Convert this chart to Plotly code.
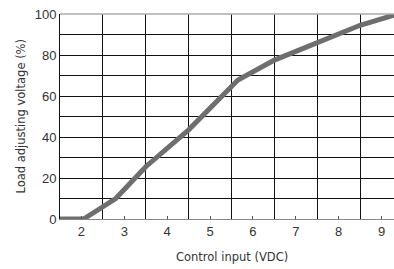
import plotly.graph_objects as go

control_input = [1.5, 2.05, 2.8, 3.5, 4.5, 5.0, 5.65, 6.5, 7.5, 8.5, 9.3]
load_voltage = [0, 0, 10, 25.5, 43.5, 54, 67.8, 77.5, 86, 94.5, 99.5]
x_ticks = [2, 3, 4, 5, 6, 7, 8, 9]
y_ticks = [0, 20, 40, 60, 80, 100]

tick_font = "Liberation Sans, Arial, sans-serif"
title_font = "DejaVu Sans, sans-serif"

fig = go.Figure()
fig.add_trace(go.Scatter(
    x=control_input, y=load_voltage, mode="lines",
    line=dict(color="#6e6e6e", width=5), hoverinfo="skip", showlegend=False,
))

fig.update_layout(
    width=394, height=269, autosize=False,
    margin=dict(l=60, r=0, t=14, b=50, autoexpand=False),
    paper_bgcolor="white", plot_bgcolor="white",
    font=dict(family=tick_font, color="#333333", size=13),
    showlegend=False,
)

fig.update_xaxes(
    range=[1.5, 9.29], automargin=False,
    tickvals=x_ticks, ticktext=[str(v) for v in x_ticks],
    ticks="inside", ticklen=3, tickcolor="#555555",
    showgrid=False, zeroline=False,
    showline=True, linecolor="#888888", linewidth=1, mirror=False,
    minor=dict(tick0=1.5, dtick=1, showgrid=True, gridcolor="#111111", gridwidth=1, ticks=""),
    tickfont=dict(size=13, color="#333333"),
)

fig.update_yaxes(
    range=[0, 100], automargin=False,
    tickvals=y_ticks, ticktext=[str(v) for v in y_ticks],
    ticks="", showgrid=True, gridcolor="#111111", gridwidth=1,
    zeroline=False, showline=True, linecolor="#111111", linewidth=1,
    minor=dict(dtick=10, showgrid=True, gridcolor="#111111", gridwidth=1, ticks=""),
    tickfont=dict(size=13, color="#333333"),
)

# Axis titles
fig.add_annotation(text="Control input (VDC)", xref="paper", yref="paper",
                   x=0.515, y=0, yshift=-38, showarrow=False,
                   font=dict(family=title_font, size=11.5, color="#333333"),
                   xanchor="center", yanchor="middle")
fig.add_annotation(text="Load adjusting voltage (%)", xref="paper", yref="paper",
                   x=0, xshift=-40, y=0.5, showarrow=False, textangle=-90,
                   font=dict(family=title_font, size=11.5, color="#333333"),
                   xanchor="center", yanchor="middle")

# Top border line
fig.add_shape(type="line", xref="paper", yref="paper", x0=0, x1=1, y0=1, y1=1,
              line=dict(color="#aaaaaa", width=1.5))

# remove the default page margin so the figure fills the window exactly
fig.write_html("out.html", config={"displayModeBar": False},
               post_script="document.body.style.margin='0';")
